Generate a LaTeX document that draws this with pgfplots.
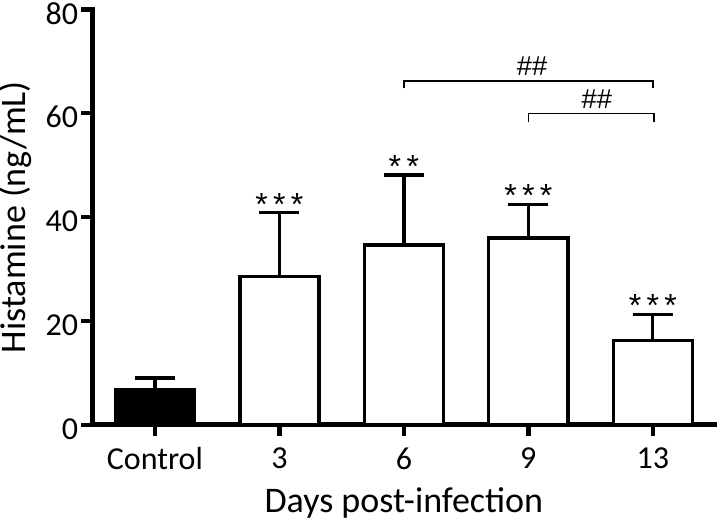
\documentclass[border=0pt]{standalone}
\usepackage{pgfplots}
\pgfplotsset{compat=1.18}
\usepackage{fontspec}
\setmainfont{Carlito}
\newfontfamily\arialf{Liberation Sans}
\begin{document}
\begin{tikzpicture}
\begin{axis}[
  scale only axis,
  width=466.7pt, height=311.6pt,
  xmin=-0.5, xmax=4.5,
  ymin=0, ymax=80,
  axis x line=bottom, axis y line=left,
  axis line style={-, line width=3.5pt, line cap=rect},
  xtick={0,1,2,3,4},
  xticklabels={Control,3,6,9,13},
  ytick={0,20,40,60,80},
  xtick pos=bottom, ytick pos=left,
  tick align=outside,
  major tick length=8.5pt,
  tick style={draw=black, line width=3.3pt},
  /pgf/number format/assume math mode=true,
  tick label style={font=\fontsize{24}{28}\selectfont},
  xticklabel style={yshift=-5pt},
  yticklabel style={xshift=1pt, yshift=-3pt},
  xlabel={Days post-infection},
  ylabel={Histamine (ng/mL)},
  label style={font=\fontsize{27}{32}\selectfont},
  xlabel style={yshift=-6.5pt},
  ylabel style={yshift=3.5pt},
  ybar, bar width=0.635, bar shift=0pt,
  clip=false,
]
\addplot[draw=black, fill=black, line width=2.5pt,
  error bars/.cd, y dir=plus, y explicit,
  error bar style={line width=2.5pt, black},
  error mark options={rotate=90, mark size=15pt, line width=2.5pt, black}]
  table[x=x, y=y, y error=e] {
x y e
0 6.7 2.3
};
\addplot[draw=black, fill=white, line width=2.5pt,
  error bars/.cd, y dir=plus, y explicit,
  error bar style={line width=2.5pt, black},
  error mark options={rotate=90, mark size=15pt, line width=2.5pt, black}]
  table[x=x, y=y, y error=e] {
x y e
1 28.5 12.4
2 34.6 13.5
3 36.0 6.4
4 16.3 5.0
};
% significance marks
\node[font=\arialf\fontsize{24}{24}\selectfont, anchor=base] at (axis cs:1,40.4) {*\,*\,*};
\node[font=\arialf\fontsize{24}{24}\selectfont, anchor=base] at (axis cs:2,47.6) {*\,*};
\node[font=\arialf\fontsize{24}{24}\selectfont, anchor=base] at (axis cs:3,42.0) {*\,*\,*};
\node[font=\arialf\fontsize{24}{24}\selectfont, anchor=base] at (axis cs:4,20.9) {*\,*\,*};
\draw[line width=1.1pt] (axis cs:2,64.8) |- (axis cs:4,66.2) -- (axis cs:4,64.8);
\draw[line width=1.1pt] (axis cs:3,58.3) |- (axis cs:4.01,59.9) -- (axis cs:4.01,58.3);
\node[font=\arialf\fontsize{20.5}{22}\selectfont] at (axis cs:3.03,69.1) {\#\#};
\node[font=\arialf\fontsize{20.5}{22}\selectfont] at (axis cs:3.55,62.7) {\#\#};
\coordinate (bbsw) at (axis cs:-1.245,-18.9);
\coordinate (bbne) at (axis cs:4.516,81.8);
\end{axis}
\pgfresetboundingbox
\path (bbsw) rectangle (bbne);
\end{tikzpicture}
\end{document}
